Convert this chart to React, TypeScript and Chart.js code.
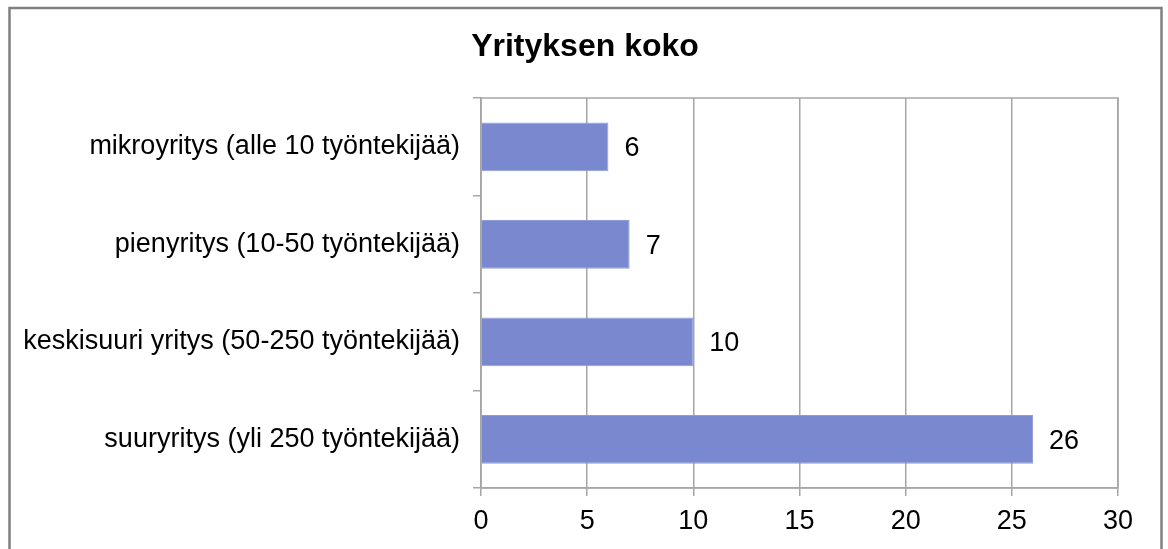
import React, { useEffect, useRef } from "react";
import { Chart, registerables } from "chart.js";

Chart.register(...registerables);

const categories = [
  "mikroyritys (alle 10 työntekijää)",
  "pienyritys (10-50 työntekijää)",
  "keskisuuri yritys (50-250 työntekijää)",
  "suuryritys (yli 250 työntekijää)",
];
const values = [6, 7, 10, 26];
const xTicks = [0, 5, 10, 15, 20, 25, 30];
const title = "Yrityksen koko";

const FONT = "'Liberation Sans', Arial, sans-serif";
const GRID = "#a6a6a6";

export default function App() {
  const ref = useRef<HTMLCanvasElement>(null);

  useEffect(() => {
    document.body.style.margin = "0";
    const canvas = ref.current!;
    const frame = {
      id: "frame",
      beforeDraw(chart: any) {
        const ctx = chart.ctx;
        ctx.save();
        ctx.fillStyle = "#ffffff";
        ctx.fillRect(0, 0, chart.width, chart.height);
        ctx.strokeStyle = "#808080";
        ctx.lineWidth = 2.5;
        ctx.strokeRect(9.5, 8, 1152, 600);
        ctx.fillStyle = "#000";
        ctx.font = `bold 32px ${FONT}`;
        ctx.textAlign = "center";
        ctx.textBaseline = "alphabetic";
        ctx.fillText(title, 585, 56);
        ctx.restore();
      },
      afterDraw(chart: any) {
        const { ctx, chartArea } = chart;
        ctx.save();
        ctx.strokeStyle = GRID;
        ctx.lineWidth = 1.5;
        ctx.strokeRect(chartArea.left, chartArea.top, chartArea.right - chartArea.left, chartArea.bottom - chartArea.top);
        ctx.restore();
      },
    };
    const valueLabels = {
      id: "valueLabels",
      afterDatasetsDraw(chart: any) {
        const ctx = chart.ctx;
        const meta = chart.getDatasetMeta(0);
        ctx.save();
        ctx.fillStyle = "#000";
        ctx.font = `27px ${FONT}`;
        ctx.textAlign = "left";
        ctx.textBaseline = "middle";
        meta.data.forEach((bar: any, i: number) => {
          ctx.fillText(String(values[i]), bar.x + 16, bar.y + 2);
        });
        ctx.restore();
      },
    };

    const chart = new Chart(canvas, {
      type: "bar",
      data: {
        labels: categories,
        datasets: [
          {
            data: values,
            backgroundColor: "#7a89cf",
            borderColor: "#8e9bd6",
            borderWidth: 1,
            barPercentage: 0.5,
            categoryPercentage: 1,
          },
        ],
      },
      options: {
        indexAxis: "y",
        animation: false,
        responsive: false,
        maintainAspectRatio: false,
        layout: { padding: { left: 0, right: 50, top: 98, bottom: 0 } },
        plugins: {
          legend: { display: false },
          tooltip: { enabled: false },
          title: { display: false },
        },
        scales: {
          x: {
            type: "linear",
            min: 0,
            max: 30,
            afterBuildTicks(scale: any) {
              scale.ticks = xTicks.map((v) => ({ value: v }));
            },
            afterFit(scale: any) {
              scale.height = 61;
            },
            grid: { color: GRID, lineWidth: 1.5, tickLength: 8 },
            border: { color: GRID, width: 1.5 },
            ticks: {
              color: "#000",
              padding: 9,
              font: { family: FONT, size: 27 },
            },
          },
          y: {
            type: "category",
            offset: true,
            afterFit(scale: any) {
              scale.width = 481;
            },
            grid: { drawOnChartArea: false, color: GRID, lineWidth: 1.5, tickLength: 8, offset: true },
            border: { color: GRID, width: 1.5 },
            ticks: {
              color: "#000",
              padding: 13,
              font: { family: FONT, size: 27 },
            },
          },
        },
      },
      plugins: [frame, valueLabels],
    });
    return () => chart.destroy();
  }, []);

  return <canvas ref={ref} width={1168} height={549} style={{ display: "block" }} />;
}
